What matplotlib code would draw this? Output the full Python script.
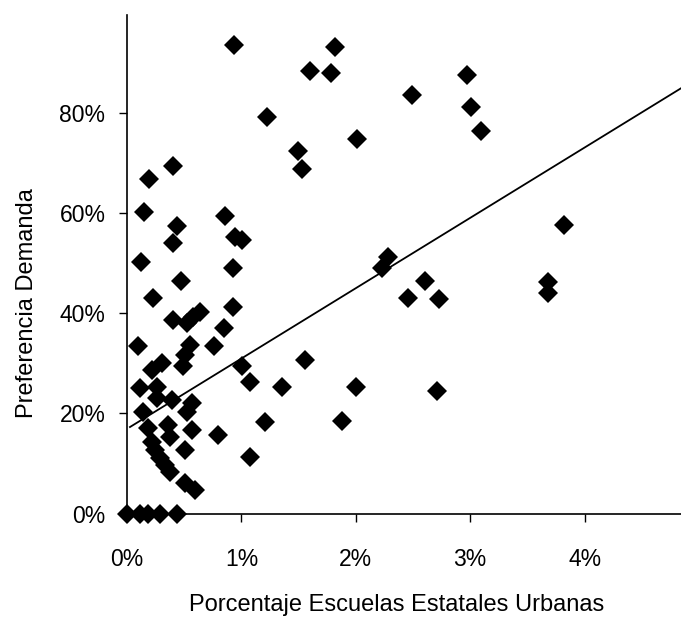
import matplotlib.pyplot as plt
import numpy as np
from matplotlib.ticker import FuncFormatter

plt.rcParams["font.family"] = ["Liberation Sans", "DejaVu Sans"]

# share of urban state schools (fraction) vs demand preference (fraction)
pct_escuelas = [
    0.00935, 0.01818, 0.01600, 0.01783, 0.01224, 0.02010, 0.01495, 0.01530,
    0.00402, 0.00192, 0.00149, 0.00437, 0.00857, 0.00402, 0.00944, 0.01005,
    0.00122, 0.00927, 0.00472, 0.00227, 0.00927, 0.00402, 0.00524, 0.00638,
    0.00577, 0.00848, 0.00096, 0.00551, 0.00760, 0.00507, 0.00490, 0.00306,
    0.00219, 0.01005, 0.01556, 0.01075, 0.01355, 0.02002, 0.00114, 0.00262,
    0.00262, 0.00393, 0.00568, 0.00524, 0.00140, 0.01206, 0.01879, 0.00184,
    0.00358, 0.00568, 0.00376, 0.00795, 0.00219, 0.00507, 0.00245, 0.00288,
    0.01075, 0.00332, 0.00376, 0.00507, 0.00594,
    0.02491, 0.02972, 0.03007, 0.03094, 0.03820, 0.02281, 0.02229,
    0.02605, 0.02456, 0.02727, 0.02710, 0.03680, 0.03680,
    0.00000, 0.00110, 0.00180, 0.00290, 0.00440,
]
pref_demanda = [
    0.935, 0.931, 0.883, 0.879, 0.791, 0.747, 0.723, 0.687,
    0.693, 0.667, 0.601, 0.573, 0.594, 0.539, 0.552, 0.546,
    0.502, 0.490, 0.464, 0.430, 0.412, 0.386, 0.380, 0.402,
    0.392, 0.370, 0.334, 0.336, 0.334, 0.316, 0.294, 0.300,
    0.286, 0.294, 0.306, 0.262, 0.252, 0.252, 0.250, 0.252,
    0.230, 0.226, 0.220, 0.202, 0.202, 0.183, 0.185, 0.171,
    0.177, 0.167, 0.153, 0.157, 0.143, 0.127, 0.127, 0.111,
    0.113, 0.097, 0.083, 0.061, 0.047,
    0.835, 0.875, 0.811, 0.763, 0.575, 0.512, 0.490,
    0.464, 0.430, 0.428, 0.244, 0.462, 0.440,
    0.000, 0.000, 0.000, 0.000, 0.000,
]

# linear trendline
trend_intercept = 0.169
trend_slope = 14.03

x_ticks = [0.0, 0.01, 0.02, 0.03, 0.04]
y_ticks = [0.0, 0.2, 0.4, 0.6, 0.8]

fig = plt.figure(figsize=(6.81, 6.18), dpi=100)
ax = fig.add_axes([0.1865, 0.169, 0.8135, 0.8066])

ax.plot(pct_escuelas, pref_demanda, linestyle="none", marker="D",
        markersize=10, color="black", markeredgewidth=0, clip_on=False, zorder=3)

xmin, xmax = 0.0, 0.04843
xs = np.array([0.00026, xmax])
ax.plot(xs, trend_intercept + trend_slope * xs, color="black", lw=1.3, zorder=4)

ax.set_xlim(xmin, xmax)
ax.set_ylim(0, 0.9945)
ax.set_xticks(x_ticks)
ax.set_yticks(y_ticks)
pct = FuncFormatter(lambda v, _: f"{v * 100:.0f}%")
ax.xaxis.set_major_formatter(pct)
ax.yaxis.set_major_formatter(pct)
ax.tick_params(axis="both", labelsize=16.5, direction="out", length=5.5, width=1)
ax.tick_params(axis="x", pad=19)
ax.tick_params(axis="y", pad=10)

for side in ("top", "right"):
    ax.spines[side].set_visible(False)
for side in ("left", "bottom"):
    ax.spines[side].set_linewidth(1.2)

ax.set_xlabel("Porcentaje Escuelas Estatales Urbanas", fontsize=17, va="baseline")
ax.set_ylabel("Preferencia Demanda", fontsize=17, va="center")
ax.xaxis.set_label_coords(0.486, -0.196)
ax.yaxis.set_label_coords(-0.18, 0.423)

fig.savefig("out.png", dpi=100)
